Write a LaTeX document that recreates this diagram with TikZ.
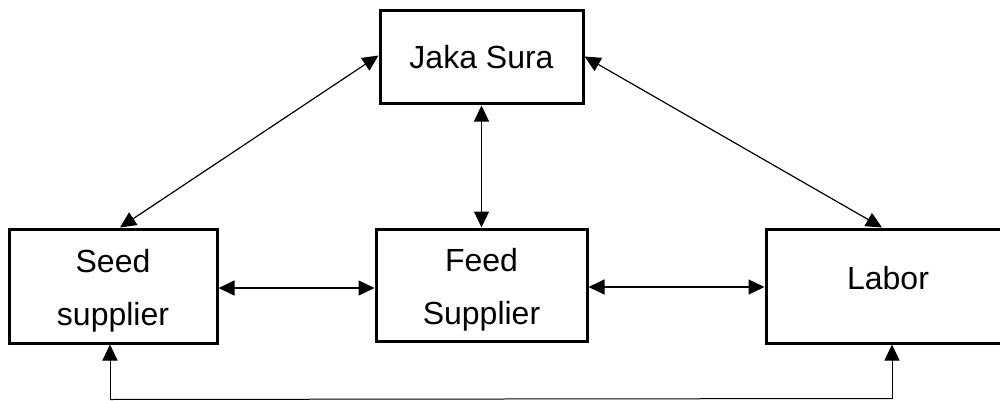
\documentclass[tikz,border=0pt]{standalone}
\usepackage{fontspec}
\setmainfont{Liberation Sans}
\usetikzlibrary{arrows.meta}
\begin{document}
\begin{tikzpicture}[x=1pt,y=-1pt,
  box/.style={draw, line width=3pt, inner sep=0pt, align=center,
    font=\fontsize{32}{53}\selectfont},
  conn/.style={line width=1.2pt,
    {Triangle[length=16pt,width=15pt]}-{Triangle[length=16pt,width=15pt]}},
  uparr/.style={line width=1pt, -{Triangle[length=16pt,width=15pt]}}]
\useasboundingbox (0,0) rectangle (1000,401);
\clip (0,0) rectangle (1000,401);
\node[box, minimum width=203pt, minimum height=93pt] (jaka) at (481.5,57.5) {Jaka Sura};
\node[box, minimum width=208pt, minimum height=114pt] (seed) at (113,286) {\rule{0pt}{33pt}Seed\\supplier};
\node[box, minimum width=211pt, minimum height=112pt] (feed) at (481.5,285) {\rule{0pt}{33pt}Feed\\Supplier};
\node[box, minimum width=244pt, minimum height=114pt, text depth=16pt] (labor) at (888,286) {Labor};
\coordinate (bl) at (110,399.5);
\coordinate (br) at (892,398.5);
\draw[conn] ([xshift=7pt]seed.north) -- ([yshift=2pt]jaka.west);
\draw[conn] ([yshift=1pt]jaka.east) -- ([xshift=-6pt]labor.north);
\draw[conn] (jaka.south) -- (feed.north);
\draw[conn] ([yshift=-2pt]seed.east) -- ([yshift=-3pt]feed.west);
\draw[conn] ([yshift=-2pt]feed.east) -- ([yshift=-1pt]labor.west);
\draw[uparr] (bl) -- ([xshift=-3pt]seed.south);
\draw[line width=1pt] (bl) -- (br);
\draw[uparr] (br) -- ([xshift=4pt]labor.south);
\end{tikzpicture}
\end{document}
